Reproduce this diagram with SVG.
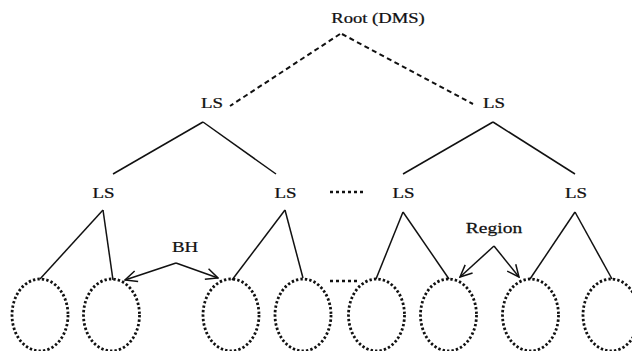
<svg xmlns="http://www.w3.org/2000/svg" width="632" height="351" viewBox="0 0 632 351">
<style>
text{font-family:"Liberation Serif","Times New Roman",serif;font-size:15px;fill:#111;stroke:#111;stroke-width:0.25;text-anchor:middle}
.solid{stroke:#111;stroke-width:1.5;fill:none}
.dash{stroke:#111;stroke-width:2;stroke-dasharray:5 3.5;fill:none}
.region{fill:none;stroke:#111;stroke-width:2.8;stroke-dasharray:2.4 2.1}
.dots{stroke:#111;stroke-width:2.6;stroke-dasharray:3 3}
.arrow{stroke:#111;stroke-width:1.5;fill:none}
</style>
<defs>
<marker id="ah" viewBox="0 0 14 14" refX="13" refY="7" markerWidth="14" markerHeight="14" markerUnits="userSpaceOnUse" orient="auto">
<path d="M1,1.5 L13,7 L1,12.5" fill="none" stroke="#111" stroke-width="1.5"/>
</marker>
</defs>
<g id="connectors">
<line class="dash" x1="340" y1="34" x2="230" y2="106"/>
<line class="dash" x1="342" y1="34" x2="473" y2="104"/>
<line class="solid" x1="203" y1="122" x2="113" y2="174"/>
<line class="solid" x1="203" y1="122" x2="276" y2="174"/>
<line class="solid" x1="493" y1="122" x2="403" y2="174"/>
<line class="solid" x1="493" y1="122" x2="575" y2="174"/>
<line class="solid" x1="103" y1="210" x2="40" y2="279"/>
<line class="solid" x1="103" y1="210" x2="113" y2="280"/>
<line class="solid" x1="285" y1="210" x2="232" y2="280"/>
<line class="solid" x1="285" y1="210" x2="303" y2="278"/>
<line class="solid" x1="403" y1="212" x2="376" y2="279"/>
<line class="solid" x1="403" y1="212" x2="449" y2="279"/>
<line class="solid" x1="575" y1="212" x2="530" y2="279"/>
<line class="solid" x1="575" y1="212" x2="612" y2="279"/>
<line class="arrow" x1="176" y1="263" x2="125" y2="280" marker-end="url(#ah)"/>
<line class="arrow" x1="176" y1="263" x2="218" y2="278" marker-end="url(#ah)"/>
<line class="arrow" x1="494" y1="246" x2="460" y2="277" marker-end="url(#ah)"/>
<line class="arrow" x1="494" y1="246" x2="519" y2="277" marker-end="url(#ah)"/>
<line class="dots" x1="330" y1="192" x2="366" y2="192"/>
<line class="dots" x1="330" y1="281" x2="360" y2="281"/>
</g>
<g id="root"><text transform="translate(378,23) scale(1.24,1)">Root (DMS)</text></g>
<g id="ls1"><text transform="translate(212,108) scale(1.26,1)">LS</text></g>
<g id="ls2"><text transform="translate(494,108) scale(1.26,1)">LS</text></g>
<g id="ls3"><text transform="translate(103.5,198) scale(1.26,1)">LS</text></g>
<g id="ls4"><text transform="translate(285.5,198) scale(1.26,1)">LS</text></g>
<g id="ls5"><text transform="translate(403.5,198) scale(1.26,1)">LS</text></g>
<g id="ls6"><text transform="translate(576,198) scale(1.26,1)">LS</text></g>
<g id="bh"><text transform="translate(185,252) scale(1.26,1)">BH</text></g>
<g id="regionlabel"><text transform="translate(494,233) scale(1.3,1)">Region</text></g>
<g id="r1"><ellipse class="region" cx="40" cy="315" rx="28" ry="36"/></g>
<g id="r2"><ellipse class="region" cx="111.5" cy="315" rx="28" ry="36"/></g>
<g id="r3"><ellipse class="region" cx="231" cy="315" rx="28" ry="36"/></g>
<g id="r4"><ellipse class="region" cx="303" cy="315" rx="28" ry="36"/></g>
<g id="r5"><ellipse class="region" cx="376.5" cy="315" rx="28" ry="36"/></g>
<g id="r6"><ellipse class="region" cx="448.5" cy="315" rx="28" ry="36"/></g>
<g id="r7"><ellipse class="region" cx="530.5" cy="315" rx="28" ry="36"/></g>
<g id="r8"><ellipse class="region" cx="611" cy="315" rx="28" ry="36"/></g>
</svg>
